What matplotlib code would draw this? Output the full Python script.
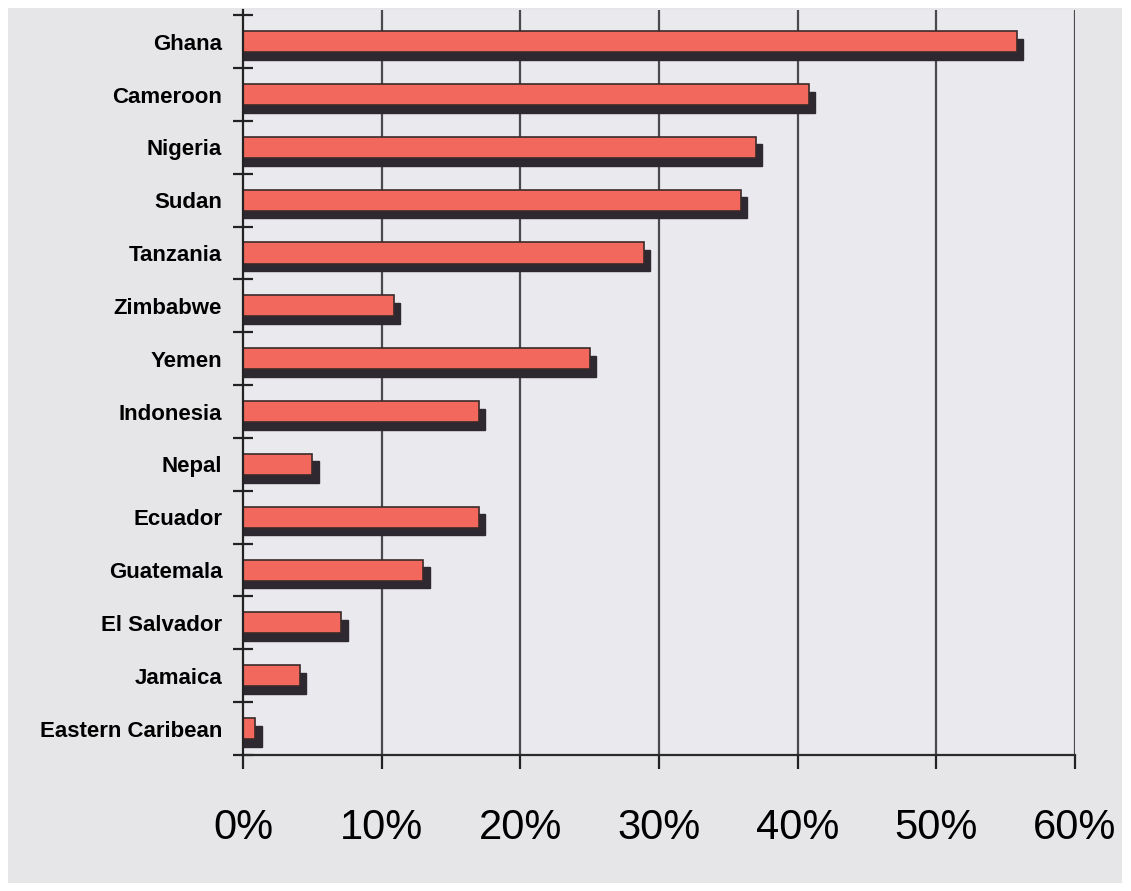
import matplotlib
matplotlib.use("Agg")
import matplotlib.pyplot as plt
import matplotlib.transforms as mtransforms
from matplotlib.patches import Rectangle
from matplotlib.ticker import FixedLocator, NullFormatter

countries = ["Ghana", "Cameroon", "Nigeria", "Sudan", "Tanzania", "Zimbabwe",
             "Yemen", "Indonesia", "Nepal", "Ecuador", "Guatemala",
             "El Salvador", "Jamaica", "Eastern Caribean"]
shares = [55.8, 40.8, 37.0, 35.9, 28.9, 10.9, 25.0, 17.0, 5.0, 17.0,
          13.0, 7.1, 4.1, 0.9]
x_ticks = [0, 10, 20, 30, 40, 50, 60]
x_tick_labels = ["0%", "10%", "20%", "30%", "40%", "50%", "60%"]

FONT = ["Liberation Sans", "DejaVu Sans"]
BAR = "#f2685c"
SHADOW = "#2e2830"
GRID = "#4a4a4e"

fig = plt.figure(figsize=(11.31, 8.91), dpi=100)
fig.patch.set_facecolor("white")
fig.patches.append(Rectangle((8 / 1131, 8 / 891), 1114 / 1131, 875 / 891,
                             transform=fig.transFigure, facecolor="#e6e6e9",
                             edgecolor="none", zorder=-10))

ax = fig.add_axes([243 / 1131, 136 / 891, 832 / 1131, 745 / 891])
ax.set_facecolor("#eaeaee")

pos = list(range(len(countries)))

# drop shadow: same bars shifted right/down by a few points, starting behind the axis
shadow_tf = mtransforms.offset_copy(ax.transData, fig=fig, x=4.5, y=-5.5, units="points")
ax.barh(pos, [s + 1 for s in shares], left=-1, height=0.4, color=SHADOW,
        edgecolor=SHADOW, linewidth=1, transform=shadow_tf, zorder=3)
ax.barh(pos, shares, height=0.4, color=BAR, edgecolor="#3a2a2a", linewidth=1.2,
        zorder=4)

ax.set_xlim(0, 60)
ax.set_ylim(len(countries) - 0.5, -0.6)

# vertical gridlines
for xv in x_ticks[1:]:
    ax.axvline(xv, color=GRID, linewidth=1.6, zorder=2)

for side in ["top", "right"]:
    ax.spines[side].set_visible(False)
ax.spines["left"].set_color("#222222")
ax.spines["left"].set_linewidth(1.6)
ax.spines["left"].set_zorder(5)
ax.spines["bottom"].set_color("#2a2a2a")
ax.spines["bottom"].set_linewidth(1.6)

ax.set_xticks(x_ticks)
ax.set_xticklabels(x_tick_labels, fontsize=30, family=FONT)
ax.tick_params(axis="x", direction="out", length=10, width=1.6, color="#222222", pad=28)

# category boundaries get cross ticks, names sit between them
ax.yaxis.set_major_locator(FixedLocator([p - 0.5 for p in pos] + [len(countries) - 0.5]))
ax.yaxis.set_major_formatter(NullFormatter())
ax.yaxis.set_minor_locator(FixedLocator(pos))
ax.set_yticklabels(countries, minor=True, fontsize=16, family=FONT, fontweight="bold")
ax.tick_params(axis="y", which="major", direction="inout", length=14, width=1.6,
               color="#222222")
ax.tick_params(axis="y", which="minor", length=0, pad=15)

fig.savefig("out.png", dpi=100, facecolor=fig.get_facecolor())
